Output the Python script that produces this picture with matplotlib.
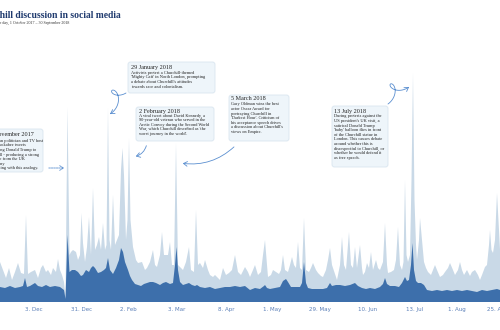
import numpy as np
import matplotlib
matplotlib.use('Agg')
import matplotlib.pyplot as plt
from matplotlib.patches import FancyBboxPatch, FancyArrowPatch
from matplotlib.path import Path

# ---------------- data (daily volume) ----------------
light_x = [0, 3, 6, 9, 12, 15, 18, 21, 24, 26, 28, 31, 35, 38, 41, 43, 46, 48, 51, 53, 56, 58, 60, 62, 64, 65.5,
           67.5, 69.5, 71, 73, 76, 78, 80, 81.5, 83, 85, 87, 89, 91, 93, 95, 97, 99, 101, 103, 105, 106.5,
           108, 109.5, 111, 113, 115, 117, 119, 121, 122.5, 124, 126, 127.5, 129, 130.5, 133, 136, 138, 142,
           145, 147, 150, 153, 155, 157, 160, 162, 164, 165, 168, 170, 172, 174, 176, 178, 180, 183, 186, 189,
           191, 194, 196, 198, 200, 203, 205, 208, 210, 213, 215, 218, 220, 223, 226, 229, 232, 235, 238, 241,
           245, 248, 250, 253, 255, 258, 261, 263, 265, 267, 268, 271, 273, 276, 279, 281, 283, 285, 288, 290,
           292, 294, 296, 298, 300, 302, 304, 306, 309, 311, 313, 316, 318, 321, 323, 326, 328, 330, 332, 335,
           337, 340, 342, 344, 346, 349, 351, 353, 355, 357, 360, 362, 363, 365, 367, 369, 371, 373, 376, 378,
           380, 383, 385, 387, 388, 391, 394, 396, 398, 400, 402, 403.5, 405, 406.5, 408, 410, 411.5, 413,
           414.5, 416, 417, 419, 420, 422, 424, 426, 428, 431, 433, 435, 437, 440, 443, 445, 448, 450, 453,
           455, 458, 460, 462, 464, 467, 470, 472, 475, 478, 480, 482, 485, 487, 489, 490, 491.5, 493, 495,
           497, 499, 500]
light_v = [400, 320, 240, 340, 220, 300, 390, 290, 280, 870, 280, 300, 320, 240, 340, 370, 300, 320, 270, 340,
           300, 430, 320, 270, 200, 40,
           1950, 470, 500, 520, 500, 420, 470, 890, 590, 400, 550, 850, 470, 1140, 520, 570, 650, 520, 790, 520, 570,
           1940, 620, 520, 1070, 570, 620, 670, 1320, 1540, 1270, 620, 820, 1640, 820, 550, 420, 390, 400,
           320, 340, 400, 520, 370, 350, 470, 700, 470, 470, 470, 600, 370, 370, 1590, 370, 350, 320, 400, 550,
           320, 300, 920, 370, 390, 340, 420, 320, 270, 250, 270, 240, 220, 340, 270, 290, 320, 470, 300, 270,
           350, 300, 250, 320, 370, 270, 300, 470, 620, 370, 250, 270, 320, 300, 280, 320, 470, 320, 300, 370,
           450, 370, 340, 600, 340, 320, 840, 320, 300, 340, 390, 320, 290, 260, 250, 320, 420, 540, 370, 280,
           220, 370, 650, 370, 320, 700, 370, 340, 550, 340, 570, 340, 270, 300, 390, 340, 500, 320, 420, 340,
           320, 400, 790, 370, 290, 300, 320, 420, 750, 370, 320, 400, 1220, 470, 400, 470, 1220, 2290,
           1020, 570, 420, 620, 840, 620, 400, 340, 300, 270, 320, 370, 320, 250, 270, 300, 340, 390, 320,
           270, 320, 400, 320, 270, 320, 260, 300, 320, 270, 220, 270, 350, 370, 570, 720, 520, 490, 620,
           1090, 720, 520]

dark_x = [0, 5, 10, 15, 20, 23, 25, 27, 30, 35, 38, 42, 46, 50, 55, 60, 64, 65.5, 67.5, 69.5, 72, 75, 78, 81,
          83, 86, 89, 91, 93, 95, 98, 101, 104, 106, 108, 110, 113, 116, 119, 121, 123, 125, 128, 130, 132, 135,
          138, 141, 144, 147, 150, 153, 156, 160, 163, 166, 170, 173, 175, 176.5, 178, 180, 183, 186, 189, 192,
          195, 197, 200, 205, 210, 215, 220, 225, 230, 235, 240, 245, 250, 255, 260, 264, 265, 267, 270, 275,
          280, 283, 286, 288, 291, 295, 300, 302, 304, 306, 308, 312, 318, 323, 327, 330, 332, 336, 340, 345,
          350, 355, 358, 362, 366, 370, 375, 380, 383, 385, 387, 390, 395, 399, 402, 404, 405, 407, 409, 411,
          412.5, 414, 416, 418, 421, 424, 427, 432, 437, 442, 447, 452, 457, 462, 467, 472, 477, 482, 487, 492,
          497, 500]
dark_v = [150, 140, 160, 140, 150, 160, 240, 150, 160, 190, 160, 150, 170, 150, 160, 150, 120, 30, 670, 300, 320,
          320, 300, 260, 270, 320, 300, 340, 360, 340, 290, 300, 320, 340, 440, 320, 280, 340, 420, 540, 500, 400,
          320, 260, 220, 180, 170, 160, 180, 190, 200, 200, 190, 170, 190, 200, 180, 190, 370, 550, 320, 200, 170,
          180, 190, 170, 160, 170, 150, 140, 150, 130, 140, 150, 150, 160, 150, 160, 120, 140, 130, 160, 170, 140,
          130, 140, 150, 210, 230, 200, 150, 150, 150, 190, 400, 190, 140, 130, 130, 130, 140, 190, 160, 170, 170,
          160, 170, 190, 160, 140, 130, 140, 130, 150, 180, 240, 180, 160, 160, 150, 190, 230, 250, 210, 220, 370,
          590, 320, 210, 190, 190, 170, 120, 110, 120, 110, 120, 110, 120, 110, 120, 110, 100, 120, 110, 120,
          130, 120]

tick_pos = [34, 82, 128, 177, 226, 272, 320, 368, 415, 457, 498]
tick_labels = ['3. Dec', '31. Dec', '2. Feb', '3. Mar', '8. Apr', '1. May', '29. May',
               '10. Jun', '13. Jul', '1. Aug', '25. Aug']

title = 'Churchill discussion in social media'
subtitle = 'Volume of posts, by the day, 1 October 2017 \u2013 30 September 2018'

LIGHT = '#c9d9e7'
DARK = '#3d6fab'
NAVY = '#1f3a6e'
LINE = '#5b8fd0'
SERIF = 'Liberation Serif'

fig = plt.figure(figsize=(5, 3.3), dpi=100)
ax = fig.add_axes([0, 28 / 330, 1, 262 / 330])
ax.fill_between(light_x, light_v, 0, color=LIGHT, lw=0)
ax.fill_between(dark_x, dark_v, 0, color=DARK, lw=0)
ax.set_xlim(0, 500)
ax.set_ylim(0, 2620)
for s in ax.spines.values():
    s.set_visible(False)
ax.set_yticks([])
ax.set_xticks(tick_pos)
ax.set_xticklabels(tick_labels, fontsize=4, color='#5a7fb8', family='DejaVu Sans')
ax.tick_params(axis='x', length=0, pad=3.3)
ax.patch.set_alpha(0)

# overlay in pixel coordinates for annotations
ov = fig.add_axes([0, 0, 1, 1], zorder=5)
ov.set_xlim(0, 500)
ov.set_ylim(330, 0)
ov.axis('off')

fig.canvas.draw()
renderer = fig.canvas.get_renderer()


def text_width(s, **kw):
    t = ov.text(0, 0, s, **kw)
    bb = t.get_window_extent(renderer)
    t.remove()
    return bb.width


# title & subtitle (cropped on the left like the reference)
tkw = dict(fontsize=6.9, fontweight='bold', family=SERIF, color=NAVY)
pre = text_width(title, **tkw) - text_width('hill discussion in social media', **tkw)
ov.text(-pre, 15, title, ha='left', va='center', **tkw)
skw = dict(fontsize=2.85, family=SERIF, color='#333333')
pre = text_width(subtitle, **skw) - text_width('e day, 1 October 2017 \u2013 30 September 2018', **skw)
ov.text(-pre, 22.5, subtitle, ha='left', va='center', **skw)

HKW = dict(fontsize=4.4, family=SERIF, color='#222222')
BKW = dict(fontsize=3.2, family=SERIF, color='#222222', linespacing=1.2)


def box(x0, y0, x1, y1, tx, heading, body, head_y, body_y):
    p = FancyBboxPatch((x0, y0), x1 - x0, y1 - y0,
                       boxstyle='round,pad=0,rounding_size=2.5',
                       fc='#eef5fa', ec='#d9e5ef', lw=0.6)
    ov.add_patch(p)
    ov.text(tx, head_y, heading, ha='left', va='center', **HKW)
    ov.text(tx, body_y, body, ha='left', va='top', **BKW)


# box 1 (cropped)
b1_body = ('American politician and TV host\nMike Huckabee tweets\ncomparing Donald Trump to\n'
           'Churchill - producing a strong\nresponse from the UK\nwith many\ndisagreeing with this analogy.')
x0 = 39 - text_width('Churchill - producing a strong', **BKW)
box(x0 - 3, 129, 43, 172, x0, '29 November 2017', b1_body, 135, 138.8)

box(128, 62, 215, 93, 131, '29 January 2018',
    "Activists protest a Churchill-themed\n'Mighty Caff' in North London, prompting\n"
    "a debate about Churchill's attitudes\ntowards race and colonialism.", 67, 70.8)

box(136, 107, 214, 141, 139, '2 February 2018',
    "A viral tweet about David Kennedy, a\n90-year-old veteran who served in the\n"
    "Arctic Convoy during the Second World\nWar, which Churchill described as 'the\n"
    "worst journey in the world'.", 111, 113.5)

box(229, 95, 289, 141, 231, '5 March 2018',
    "Gary Oldman wins the best\nactor Oscar Award for\nportraying Churchill in\n"
    "'Darkest Hour'. Criticism of\nhis acceptance speech drives\na discussion about Churchill's\n"
    "views on Empire.", 99, 102.4)

box(332, 106, 388, 167, 334, '13 July 2018',
    "During protests against the\nUS president's UK visit, a\nsatirical Donald Trump\n"
    "'baby' balloon flies in front\nof the Churchill statue in\nLondon. This causes debate\n"
    "around whether this is\ndisrespectful to Churchill, or\nwhether he would defend it\n"
    "as free speech.", 111, 114.4)

AKW = dict(arrowstyle='->,head_length=0.45,head_width=0.28', mutation_scale=6,
           color=LINE, lw=0.6)


def loop_arrow(A, B, r, phi0, sign=1, n=120):
    t = np.linspace(0, 1, n)
    x = A[0] + (B[0] - A[0]) * t + r * (np.cos(phi0 + sign * 2 * np.pi * t) - np.cos(phi0))
    y = A[1] + (B[1] - A[1]) * t + r * (np.sin(phi0 + sign * 2 * np.pi * t) - np.sin(phi0))
    path = Path(np.column_stack([x, y]))
    ov.add_patch(FancyArrowPatch(path=path, **AKW))


loop_arrow((126, 93), (110, 114), 7.0, np.deg2rad(72), sign=1)
loop_arrow((388, 104), (409, 87), 7.0, np.deg2rad(56), sign=-1)

ov.add_patch(FancyArrowPatch((147, 143), (133, 157), connectionstyle='arc3,rad=-0.35', **AKW))
ov.add_patch(FancyArrowPatch((236, 145), (180, 163), connectionstyle='arc3,rad=-0.25', **AKW))
ov.add_patch(FancyArrowPatch((46, 168), (67, 168), linestyle=(0, (2, 1)), **AKW))

fig.savefig('out.png', dpi=100)
